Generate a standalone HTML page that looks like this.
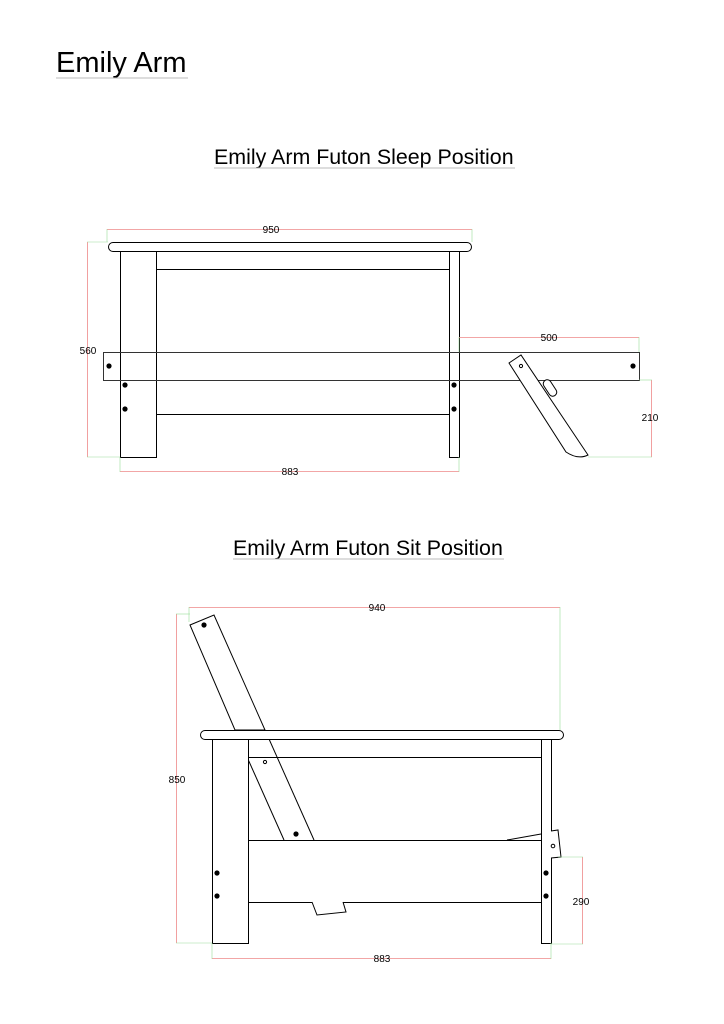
<!DOCTYPE html>
<html><head><meta charset="utf-8"><style>
html,body{margin:0;padding:0;background:#fff;}
svg{display:block;}
text{font-family:"Liberation Sans",Arial,sans-serif;}
</style></head><body>
<svg width="724" height="1024" viewBox="0 0 724 1024" xmlns="http://www.w3.org/2000/svg">
<rect width="724" height="1024" fill="#fff"/>
<text x="56" y="72" font-size="29" fill="#000">Emily Arm</text>
<line x1="56" y1="78" x2="188" y2="78" stroke="#bbb" stroke-width="1"/>
<text x="214" y="164" font-size="21.4" fill="#000">Emily Arm Futon Sleep Position</text>
<line x1="214" y1="168" x2="515" y2="168" stroke="#bbb"/>
<text x="233" y="555" font-size="21.4" fill="#000">Emily Arm Futon Sit Position</text>
<line x1="233" y1="559" x2="504" y2="559" stroke="#bbb"/>

<!-- SLEEP -->
<g stroke="#000" stroke-width="1" fill="#fff">
<rect x="108.5" y="242.5" width="363" height="9" rx="4.5"/>
<rect x="120.5" y="251.5" width="36" height="206"/>
<rect x="449.5" y="251.5" width="10" height="206"/>
<line x1="156.5" y1="269.5" x2="449.5" y2="269.5"/>
<line x1="156.5" y1="414.5" x2="449.5" y2="414.5"/>
<rect x="103.5" y="352.5" width="536" height="28" fill="none" stroke="#333"/>
<path d="M509 363 L521 355 L588 455 Q578 460 566 452 Z"/>
<rect x="546" y="379" width="8" height="18" rx="4" transform="rotate(-33 550 388)"/>
</g>
<g fill="#000">
<circle cx="109" cy="366" r="2.6"/><circle cx="125" cy="385" r="2.6"/><circle cx="125" cy="409" r="2.6"/>
<circle cx="454" cy="385" r="2.6"/><circle cx="454" cy="409" r="2.6"/><circle cx="633" cy="366" r="2.6"/>
</g>
<circle cx="521" cy="366" r="1.6" fill="#fff" stroke="#000"/>
<g stroke="#e88" stroke-width="0.8" fill="none">
<line x1="107" y1="229.5" x2="472" y2="229.5"/>
<line x1="87.5" y1="242" x2="87.5" y2="457"/>
<line x1="120" y1="471.5" x2="459" y2="471.5"/>
<line x1="459" y1="337.5" x2="639" y2="337.5"/>
<line x1="651.5" y1="380" x2="651.5" y2="457"/>
</g>
<g stroke="#9d9" stroke-width="0.6">
<line x1="107" y1="229" x2="107" y2="242"/><line x1="472" y1="229" x2="472" y2="242"/>
<line x1="87" y1="242" x2="108" y2="242"/><line x1="87" y1="457" x2="120" y2="457"/>
<line x1="120" y1="457" x2="120" y2="472"/><line x1="459" y1="457" x2="459" y2="472"/>
<line x1="459" y1="337" x2="459" y2="352"/><line x1="639" y1="337" x2="639" y2="352"/>
<line x1="639" y1="380" x2="652" y2="380"/><line x1="588" y1="457" x2="652" y2="457"/>
</g>
<g font-size="10" fill="#000" text-anchor="middle">
<text x="271" y="233">950</text>
<text x="88" y="354">560</text>
<text x="290" y="475">883</text>
<text x="549" y="341">500</text>
<text x="650" y="421">210</text>
</g>

<!-- SIT -->
<g stroke="#000" stroke-width="1" fill="#fff">
<path d="M190 625 L214 615 L265 730 L235 730 Z"/>
<line x1="235" y1="730" x2="284" y2="840"/>
<line x1="265" y1="730" x2="314" y2="840"/>
<rect x="200.5" y="730.5" width="363" height="9" rx="4.5"/>
<rect x="212.5" y="739.5" width="36" height="204"/>
<rect x="541.5" y="739.5" width="10" height="204"/>
<line x1="248.5" y1="757.5" x2="541.5" y2="757.5"/>
<rect x="248.5" y="840.5" width="293" height="62"/>
<path d="M312 902 L317 915 L346 912 L343 902" />
<line x1="507" y1="840" x2="541" y2="834"/>
<path d="M551 831 L558 830 L561 857 L551 858"/>
</g>
<g fill="#000">
<circle cx="204" cy="625" r="2.6"/><circle cx="296" cy="834" r="2.6"/>
<circle cx="217" cy="873" r="2.6"/><circle cx="217" cy="896" r="2.6"/>
<circle cx="546" cy="873" r="2.6"/><circle cx="546" cy="896" r="2.6"/>
</g>
<circle cx="265" cy="762" r="1.6" fill="#fff" stroke="#000"/>
<circle cx="553" cy="846" r="1.8" fill="#fff" stroke="#000"/>
<g stroke="#e88" stroke-width="0.8" fill="none">
<line x1="189" y1="607.5" x2="560" y2="607.5"/>
<line x1="176.5" y1="614" x2="176.5" y2="943"/>
<line x1="212" y1="958.5" x2="551" y2="958.5"/>
<line x1="582.5" y1="857" x2="582.5" y2="944"/>
</g>
<g stroke="#9d9" stroke-width="0.6">
<line x1="189" y1="607" x2="189" y2="622"/><line x1="560" y1="607" x2="560" y2="730"/>
<line x1="176" y1="614" x2="190" y2="614"/><line x1="176" y1="943" x2="212" y2="943"/>
<line x1="212" y1="943" x2="212" y2="959"/><line x1="551" y1="943" x2="551" y2="959"/>
<line x1="558" y1="857" x2="583" y2="857"/><line x1="551" y1="944" x2="583" y2="944"/>
</g>
<g font-size="10" fill="#000" text-anchor="middle">
<text x="377" y="611">940</text>
<text x="177" y="783">850</text>
<text x="382" y="962">883</text>
<text x="581" y="905">290</text>
</g>
</svg>
</body></html>
